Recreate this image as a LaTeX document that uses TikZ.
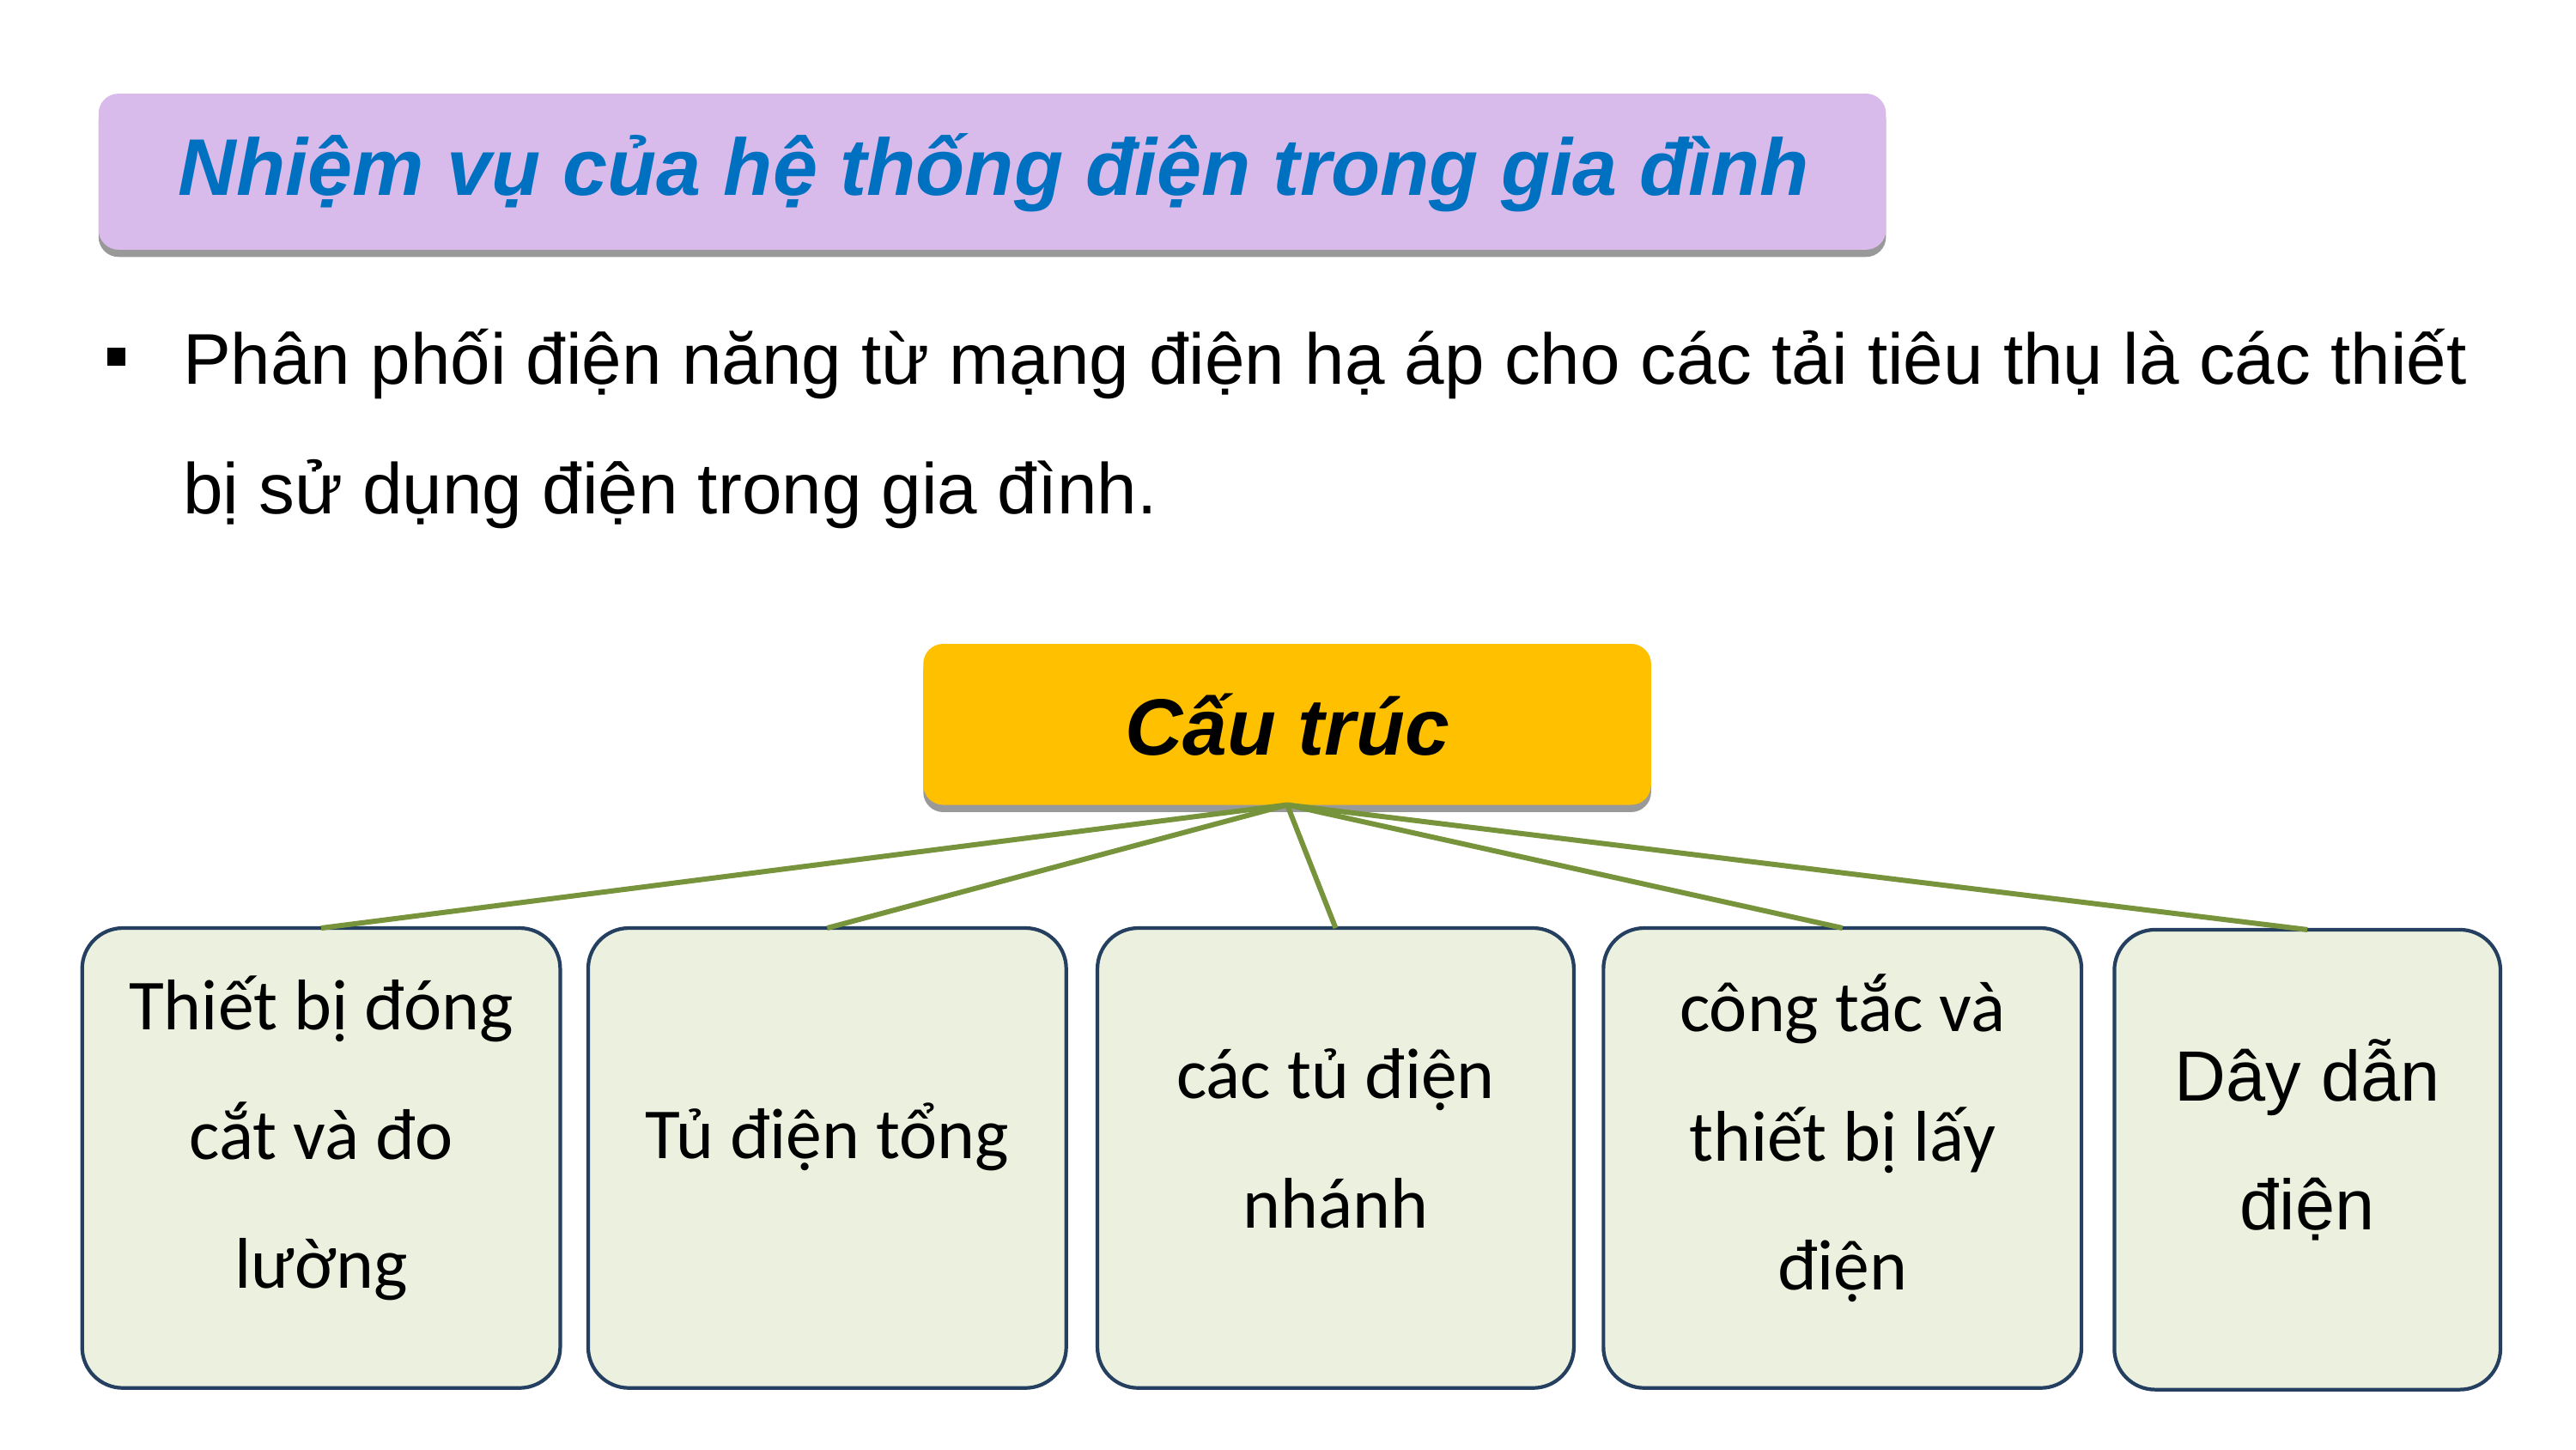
\documentclass[tikz,border=0pt]{standalone}
\usepackage{fontspec}
\setmainfont{Liberation Sans}
\newfontfamily\calib{Carlito}
\usetikzlibrary{shadows}
\definecolor{lav}{HTML}{D8BBEA}
\definecolor{ttlblue}{HTML}{0070C0}
\definecolor{gold}{HTML}{FFC000}
\definecolor{olive}{HTML}{77933C}
\definecolor{boxfill}{HTML}{EBF1DE}
\definecolor{navy}{HTML}{243F60}
\def\u{0.019133cm}
\begin{document}
\begin{tikzpicture}[x=0.019133cm,y=-0.019133cm,
  hdr/.style={inner sep=0pt, outer sep=0pt, rounded corners=6.6pt,
    general shadow={fill=black!40, shadow yshift=-2.4pt}},
  partbox/.style={draw=navy, line width=1.2pt, fill=boxfill, inner sep=0pt,
    outer sep=0pt, rounded corners=13.5pt, minimum height=280*\u},
  parttext/.style={align=center, font=\calib\fontsize{23.8}{42.9}\selectfont},
  conn/.style={draw=olive, line width=1.7pt}]
\useasboundingbox (0,0) rectangle (1568,882.3);
\fill[white] (0,0) rectangle (1568,882.3);
% title
\node[hdr, fill=lav, minimum width=1088*\u, minimum height=95*\u] (title) at (604,104.5) {};
\node[font=\fontsize{26.65}{30}\selectfont\bfseries\itshape, text=ttlblue] (ttl) at (605,105) {Nhiệm vụ của hệ thống điện trong gia đình};
% bullet
\node[fill=black, minimum size=11*\u, inner sep=0pt] (bul) at (71,217) {};
\node[anchor=base west, inner sep=0pt, font=\fontsize{23.8}{30}\selectfont] (l1) at (111,234) {Phân phối điện năng từ mạng điện hạ áp cho các tải tiêu thụ là các thiết};
\node[anchor=base west, inner sep=0pt, font=\fontsize{23.8}{30}\selectfont] (l2) at (111,313) {bị sử dụng điện trong gia đình.};
% structure header
\node[hdr, fill=gold, minimum width=443*\u, minimum height=98*\u,
  font=\fontsize{26.5}{30}\selectfont\bfseries\itshape] (cau) at (783.5,441) {Cấu trúc};
% boxes
\node[partbox, minimum width=291*\u] (b1) at (195.5,705) {};
\node[partbox, minimum width=291*\u] (b2) at (503.5,705) {};
\node[partbox, minimum width=290*\u] (b3) at (813,705) {};
\node[partbox, minimum width=291*\u] (b4) at (1121.5,705) {};
\node[partbox, minimum width=235*\u] (b5) at (1404.5,706) {};
\node[parttext] (t1) at (195.5,693) {Thiết bị đóng\\cắt và đo\\lường};
\node[parttext] (t2) at (503.5,692) {Tủ điện tổng};
\node[parttext] (t3) at (813,693) {các tủ điện\\nhánh};
\node[parttext] (t4) at (1121.5,693) {công tắc và\\thiết bị lấy\\điện};
\node[align=center, font=\fontsize{23.6}{42.9}\selectfont] (t5) at (1404.5,694) {Dây dẫn\\điện};
% connectors
\foreach \b in {b1,b2,b3,b4,b5} \draw[conn] (cau.south) -- (\b.north);
\end{tikzpicture}
\end{document}
